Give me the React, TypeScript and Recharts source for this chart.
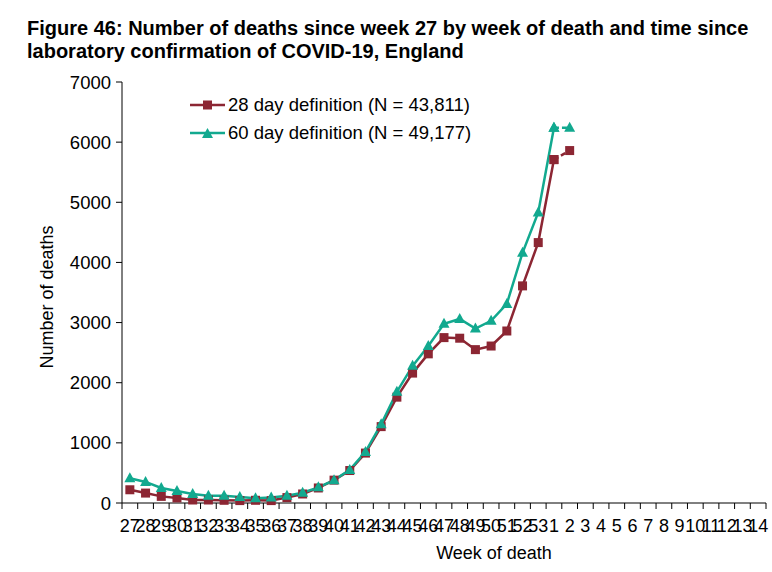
import React from "react";
import { LineChart, Line, XAxis, YAxis, Label } from "recharts";

const weeks = [
  "27", "28", "29", "30", "31", "32", "33", "34", "35", "36", "37", "38", "39", "40",
  "41", "42", "43", "44", "45", "46", "47", "48", "49", "50", "51", "52", "53",
  "1", "2", "3", "4", "5", "6", "7", "8", "9", "10", "11", "12", "13", "14",
];

// deaths within 28 days of a positive test
const deaths28 = [
  220, 165, 110, 85, 50, 50, 45, 40, 45, 40, 90, 150, 250, 380, 540, 830, 1270,
  1760, 2160, 2480, 2750, 2740, 2550, 2610, 2860, 3610, 4330, 5710, 5860,
];
// deaths within 60 days of a positive test
const deaths60 = [
  410, 350, 250, 200, 150, 120, 120, 100, 80, 90, 120, 170, 260, 380, 550, 850, 1310,
  1850, 2280, 2610, 2980, 3060, 2900, 3030, 3310, 4160, 4830, 6240, 6240,
];

const yTicks = [0, 1000, 2000, 3000, 4000, 5000, 6000, 7000];

const legend28 = "28 day definition (N = 43,811)";
const legend60 = "60 day definition (N = 49,177)";

// the last week is provisional: drawn as a dashed segment
const lastFirm = deaths28.length - 2;

const data = weeks.map((w, i) => ({
  week: w,
  d28: i <= lastFirm ? deaths28[i] : null,
  d60: i <= lastFirm ? deaths60[i] : null,
  d28p: i >= lastFirm && i < deaths28.length ? deaths28[i] : null,
  d60p: i >= lastFirm && i < deaths60.length ? deaths60[i] : null,
}));

const RED = "#8c2633";
const TEAL = "#12a98f";
const FONT = "'Liberation Sans', Arial, Helvetica, sans-serif";
const BAND = 644 / weeks.length;

const Square = (props: any) => {
  const { cx, cy, fill } = props;
  if (cx == null || cy == null || props.value == null) return null;
  return <rect x={cx - 4.5} y={cy - 4.5} width={9} height={9} fill={fill} />;
};

const Triangle = (props: any) => {
  const { cx, cy, fill } = props;
  if (cx == null || cy == null || props.value == null) return null;
  return <path d={`M${cx},${cy - 6} L${cx + 5.5},${cy + 4} L${cx - 5.5},${cy + 4} Z`} fill={fill} />;
};

const XTick = (props: any) => {
  const { x, y, payload, index } = props;
  const left = x - BAND / 2;
  return (
    <g>
      <line x1={left} x2={left} y1={y} y2={y + 6} stroke="#000" />
      {index === weeks.length - 1 && (
        <line x1={x + BAND / 2} x2={x + BAND / 2} y1={y} y2={y + 6} stroke="#000" />
      )}
      <text x={x} y={y + 29} textAnchor="middle" fontSize={18} fill="#000">
        {payload.value}
      </text>
    </g>
  );
};

const LegendBox = () => (
  <div
    style={{
      position: "absolute",
      left: 190,
      top: 91,
      fontSize: 18.5,
      lineHeight: "28px",
      color: "#000",
      whiteSpace: "nowrap",
    }}
  >
    <div style={{ display: "flex", alignItems: "center" }}>
      <svg width={36} height={14}>
        <line x1={0} x2={35} y1={7} y2={7} stroke={RED} strokeWidth={2.5} />
        <rect x={13} y={2.5} width={9} height={9} fill={RED} />
      </svg>
      <span style={{ marginLeft: 2 }}>{legend28}</span>
    </div>
    <div style={{ display: "flex", alignItems: "center" }}>
      <svg width={36} height={14}>
        <line x1={0} x2={35} y1={7} y2={7} stroke={TEAL} strokeWidth={2.5} />
        <path d="M17.5,2 L23,12 L12,12 Z" fill={TEAL} />
      </svg>
      <span style={{ marginLeft: 2 }}>{legend60}</span>
    </div>
  </div>
);

export default function App() {
  return (
    <div
      style={{
        position: "absolute",
        left: 0,
        top: 0,
        width: 772,
        height: 572,
        background: "#fff",
        fontFamily: FONT,
        overflow: "hidden",
      }}
    >
      <div
        style={{
          position: "absolute",
          left: 27,
          top: 17,
          fontWeight: "bold",
          fontSize: 20,
          lineHeight: "23px",
          color: "#000",
          whiteSpace: "nowrap",
        }}
      >
        Figure 46: Number of deaths since week 27 by week of death and time since
        <br />
        laboratory confirmation of COVID-19, England
      </div>
      <LineChart
        width={772}
        height={572}
        data={data}
        margin={{ top: 82, right: 6, bottom: 0, left: 0 }}
        style={{ position: "absolute", left: 0, top: 0 }}
      >
        <XAxis
          dataKey="week"
          interval={0}
          height={69}
          padding={{ left: BAND / 2, right: BAND / 2 }}
          tickLine={false}
          tickSize={0}
          tickMargin={0}
          tick={<XTick />}
          axisLine={{ stroke: "#000" }}
        >
          <Label value="Week of death" position="insideBottom" offset={13} dx={50} fontSize={18} fill="#000" />
        </XAxis>
        <YAxis
          width={122}
          domain={[0, 7000]}
          ticks={yTicks}
          interval={0}
          tick={{ fontSize: 18.5, fill: "#000" }}
          tickSize={6}
          tickMargin={5}
          tickLine={{ stroke: "#000" }}
          axisLine={{ stroke: "#000" }}
        >
          <Label
            content={() => (
              <text
                x={47}
                y={297}
                transform="rotate(-90 47 297)"
                textAnchor="middle"
                dominantBaseline="central"
                fontSize={18}
                fill="#000"
              >
                Number of deaths
              </text>
            )}
          />
        </YAxis>
        <Line
          dataKey="d28"
          stroke={RED}
          strokeWidth={2.5}
          fill={RED}
          dot={<Square />}
          activeDot={false}
          isAnimationActive={false}
        />
        <Line
          dataKey="d28p"
          stroke={RED}
          strokeWidth={2.5}
          strokeDasharray="5 3"
          fill={RED}
          dot={<Square />}
          activeDot={false}
          isAnimationActive={false}
        />
        <Line
          dataKey="d60"
          stroke={TEAL}
          strokeWidth={2.5}
          fill={TEAL}
          dot={<Triangle />}
          activeDot={false}
          isAnimationActive={false}
        />
        <Line
          dataKey="d60p"
          stroke={TEAL}
          strokeWidth={2.5}
          strokeDasharray="5 3"
          fill={TEAL}
          dot={<Triangle />}
          activeDot={false}
          isAnimationActive={false}
        />
      </LineChart>
      <LegendBox />
    </div>
  );
}
